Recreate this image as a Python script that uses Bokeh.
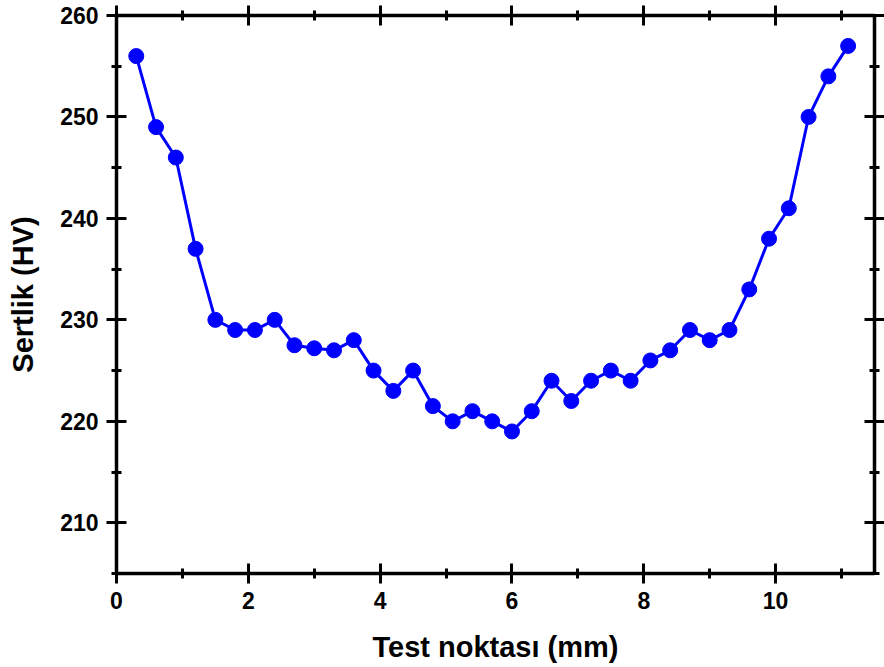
from bokeh.plotting import figure
from bokeh.models import LinearAxis, SingleIntervalTicker, Range1d
from bokeh.embed import file_html
from bokeh.resources import INLINE

x_mm = [0.3, 0.6, 0.9, 1.2, 1.5, 1.8, 2.1, 2.4, 2.7, 3.0, 3.3, 3.6, 3.9, 4.2, 4.5,
        4.8, 5.1, 5.4, 5.7, 6.0, 6.3, 6.6, 6.9, 7.2, 7.5, 7.8, 8.1, 8.4, 8.7, 9.0,
        9.3, 9.6, 9.9, 10.2, 10.5, 10.8, 11.1]
hardness = [256, 249, 246, 237, 230, 229, 229, 230, 227.5, 227.2, 227, 228, 225, 223, 225,
            221.5, 220, 221, 220, 219, 221, 224, 222, 224, 225, 224, 226, 227, 229, 228,
            229, 233, 238, 241, 250, 254, 257]

x_label = "Test noktası (mm)"
y_label = "Sertlik (HV)"

FONT = "Liberation Sans"

p = figure(width=884, height=667, output_backend="svg", toolbar_location=None,
           x_range=Range1d(0, 11.5), y_range=Range1d(205, 260),
           min_border_left=116, min_border_right=7, min_border_top=15, min_border_bottom=94)
p.outline_line_color = None
p.xgrid.visible = False
p.ygrid.visible = False

p.line(x_mm, hardness, line_color="#0000FF", line_width=3)
p.scatter(x_mm, hardness, size=15, fill_color="#0000FF", line_color="#0000FF")

def style(ax, labels=True):
    ax.axis_line_width = 3.5
    ax.axis_line_color = "black"
    ax.major_tick_line_width = 3
    ax.minor_tick_line_width = 3
    ax.major_tick_in = 10
    ax.major_tick_out = 10
    ax.minor_tick_in = 5
    ax.minor_tick_out = 5
    ax.major_label_text_font = FONT
    ax.major_label_text_font_style = "bold"
    ax.major_label_text_font_size = "23px"
    ax.major_label_text_color = "black"
    ax.major_label_standoff = 8
    ax.axis_label_text_font = FONT
    ax.axis_label_text_font_style = "bold"
    ax.axis_label_text_color = "black"
    if not labels:
        ax.major_label_text_font_size = "0px"
        ax.major_label_text_alpha = 0

xt = SingleIntervalTicker(interval=2, num_minor_ticks=2)
yt = SingleIntervalTicker(interval=10, num_minor_ticks=2)

p.xaxis.ticker = xt
p.yaxis.ticker = yt
style(p.xaxis[0])
style(p.yaxis[0])
p.xaxis.axis_label = x_label
p.yaxis.axis_label = y_label
p.xaxis.axis_label_text_font_size = "29px"
p.yaxis.axis_label_text_font_size = "29px"
p.xaxis.axis_label_standoff = 19
p.yaxis.axis_label_standoff = 18

top = LinearAxis(ticker=SingleIntervalTicker(interval=2, num_minor_ticks=2))
style(top, labels=False)
p.add_layout(top, "above")
right = LinearAxis(ticker=SingleIntervalTicker(interval=10, num_minor_ticks=2))
style(right, labels=False)
p.add_layout(right, "right")

open("out.html", "w").write(file_html(p, INLINE))
